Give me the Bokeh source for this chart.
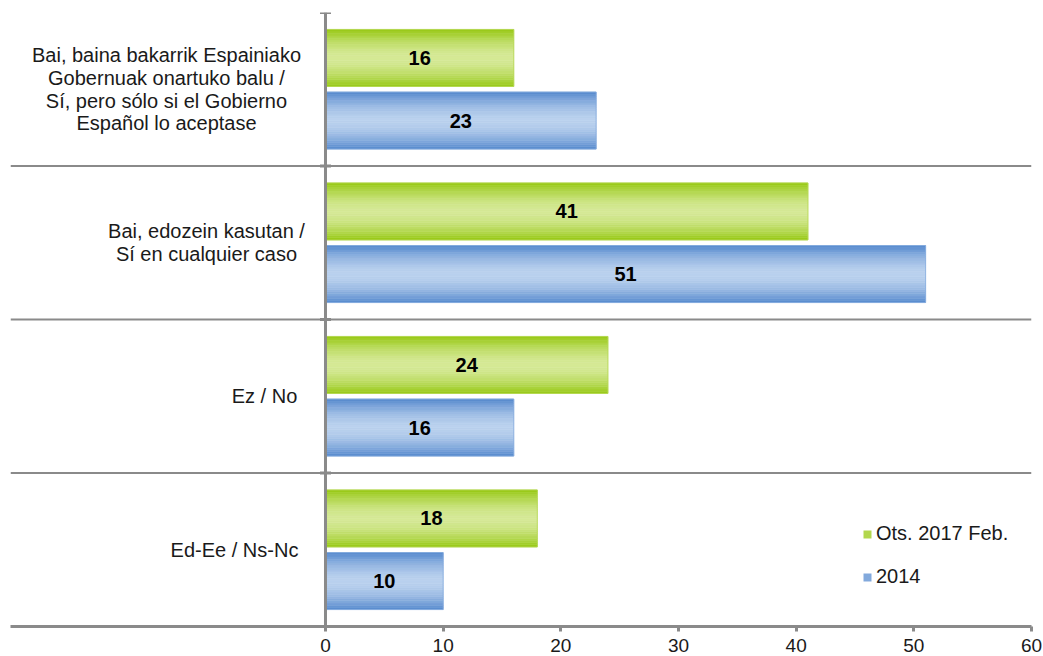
from bokeh.plotting import figure
from bokeh.models import Range1d, FixedTicker, Span, Legend, LegendItem, ColumnDataSource
from bokeh.core.properties import value
from bokeh.embed import file_html
from bokeh.resources import INLINE

# ---------------- data ----------------
categories = [
    "Bai, baina bakarrik Espainiako\nGobernuak onartuko balu /\nSí, pero sólo si el Gobierno\nEspañol lo aceptase",
    "Bai, edozein kasutan /\nSí en cualquier caso",
    "Ez / No",
    "Ed-Ee / Ns-Nc",
]
series_names = ["Ots. 2017 Feb.", "2014"]
values_2017 = [16, 41, 24, 18]
values_2014 = [23, 51, 16, 10]
x_ticks = [0, 10, 20, 30, 40, 50, 60]

# ---------------- style ----------------
FONT = "Liberation Sans"
GRAY = "#8a8a8a"
TXT = "#1a1a1a"
label_offsets_px = [-159, -119, -61, -91]   # centre of each label block, px left of axis
green_edge, green_mid = (150, 200, 18), (213, 233, 150)
blue_edge, blue_mid = (84, 136, 205), (186, 209, 238)
N_STRIPS = 26
BAR_H = 0.371
OFF = 0.204

p = figure(width=1043, height=656, output_backend="svg", toolbar_location=None,
           x_range=Range1d(-26.77, 60), y_range=Range1d(0, 4),
           y_axis_location=None, min_border_left=10, min_border_right=12,
           min_border_top=12, min_border_bottom=30)
p.outline_line_color = None
p.xgrid.visible = False
p.ygrid.visible = False
p.background_fill_color = "white"
p.border_fill_color = "white"

ax = p.xaxis[0]
ax.ticker = FixedTicker(ticks=x_ticks)
ax.axis_line_color = GRAY
ax.axis_line_width = 3
ax.major_tick_line_color = GRAY
ax.major_tick_line_width = 3
ax.major_tick_in = 0
ax.major_tick_out = 5
ax.minor_tick_line_color = None
ax.major_label_standoff = 7
ax.major_label_text_font = FONT
ax.major_label_text_font_size = "19px"
ax.major_label_text_color = TXT

# separators between category bands
n = len(categories)
for b in range(1, n):
    p.add_layout(Span(location=b, dimension="width", line_color=GRAY, line_width=2))

def mix(c1, c2, w):
    return "#%02x%02x%02x" % tuple(int(round(a * (1 - w) + b * w)) for a, b in zip(c1, c2))

def gradient_bars(vals, offset, edge, mid):
    ys, rights, colors, hs = [], [], [], []
    for i, v in enumerate(vals):
        centre = n - 0.5 - i + offset
        for j in range(N_STRIPS):
            t = abs(2 * (j + 0.5) / N_STRIPS - 1)
            w = min(1.0, t ** 1.7)
            ys.append(centre - BAR_H / 2 + (j + 0.5) * BAR_H / N_STRIPS)
            rights.append(v)
            colors.append(mix(mid, edge, w))
            hs.append(BAR_H / N_STRIPS)
    src = ColumnDataSource(dict(y=ys, right=rights, c=colors, h=hs))
    p.hbar(y="y", left=0, right="right", height="h", source=src,
           fill_color="c", line_color="c", line_width=0.6)
    osrc = ColumnDataSource(dict(y=[n - 0.5 - i + offset for i in range(n)], right=vals))
    p.hbar(y="y", left=0, right="right", height=BAR_H, source=osrc,
           fill_color=None, line_color=mix(mid, edge, 0.5), line_width=1, line_alpha=0.8)

gradient_bars(values_2017, OFF, green_edge, green_mid)
gradient_bars(values_2014, -OFF, blue_edge, blue_mid)

# value labels
for vals, off in ((values_2017, OFF), (values_2014, -OFF)):
    src = ColumnDataSource(dict(x=[v / 2 for v in vals],
                                y=[n - 0.5 - i + off for i in range(n)],
                                t=[str(v) for v in vals]))
    p.text(x="x", y="y", text="t", source=src, text_align="center", text_baseline="middle",
           text_font=value(FONT), text_font_size="20px", text_font_style="bold", text_color="black")

# category labels
csrc = ColumnDataSource(dict(x=[0] * n, y=[n - 0.5 - i for i in range(n)], t=categories,
                             xo=label_offsets_px))
p.text(x="x", y="y", text="t", x_offset="xo", source=csrc, text_align="center",
       text_baseline="middle", text_font=value(FONT), text_font_size="20px",
       text_line_height=1.03, text_color=TXT)

# vertical axis line at 0 with small ticks at band boundaries
p.add_layout(Span(location=0, dimension="height", line_color=GRAY, line_width=3))
p.rect(x=[0] * (n + 1), y=list(range(n + 1)), width=11, height=3,
       width_units="screen", height_units="screen", fill_color=GRAY, line_color=None)

# legend (renderers hold one off-screen point so their glyphs are drawn in the legend)
rg = p.hbar(y=[-5], right=[1], height=0.3, fill_color=mix(green_mid, green_edge, 0.55), line_color=None)
rb = p.hbar(y=[-5], right=[1], height=0.3, fill_color=mix(blue_mid, blue_edge, 0.55), line_color=None)
legend = Legend(items=[LegendItem(label=series_names[0], renderers=[rg]),
                       LegendItem(label=series_names[1], renderers=[rb])],
                location=(852, 38), orientation="vertical",
                glyph_width=10, glyph_height=10, label_standoff=4, spacing=20,
                label_text_font=FONT, label_text_font_size="20px", label_text_color=TXT,
                background_fill_alpha=0, border_line_alpha=0, padding=0, margin=0)
p.add_layout(legend)

open("out.html", "w").write(file_html(p, INLINE))
